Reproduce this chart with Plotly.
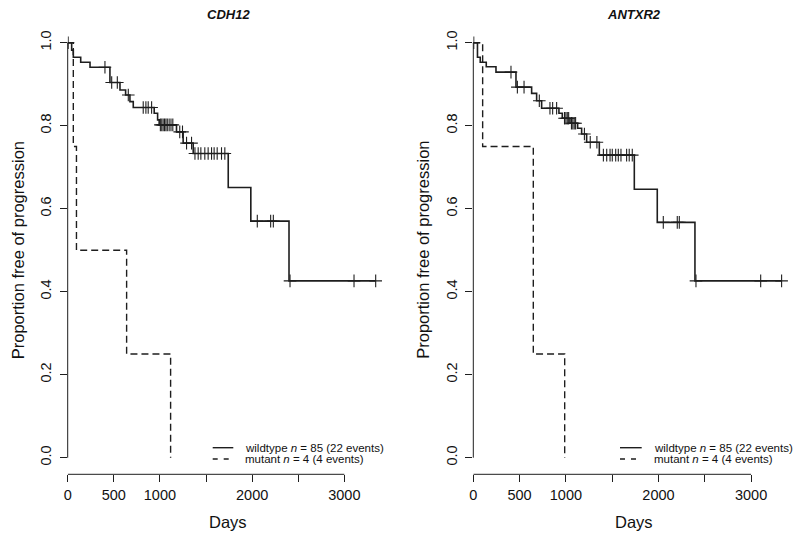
import numpy as np
import plotly.graph_objects as go

# ---------------- data ----------------
panel_titles = ["CDH12", "ANTXR2"]

cdh12_wt_days = [0, 43, 61, 141, 242, 458, 567, 628, 675, 711, 938, 975, 992, 1180, 1252, 1361, 1741, 1986, 2400]
cdh12_wt_surv = [1.0, 0.982, 0.965, 0.953, 0.941, 0.904, 0.886, 0.874, 0.858, 0.844, 0.830, 0.814, 0.802, 0.785,
                 0.758, 0.733, 0.651, 0.570, 0.426]
cdh12_wt_censor = [5, 404, 477, 538, 657, 819, 848, 873, 910, 1005, 1020, 1035, 1050, 1065, 1080, 1100, 1120,
                   1140, 1215, 1245, 1289, 1343, 1380, 1415, 1444, 1487, 1523, 1560, 1588, 1621, 1668, 1704,
                   2056, 2201, 2230, 2411, 3105, 3340]
cdh12_mut_days = [0, 61, 95, 639, 1116]
cdh12_mut_surv = [1.0, 0.75, 0.5, 0.25, 0.0]

antxr2_wt_days = [0, 45, 75, 140, 245, 461, 630, 684, 738, 925, 961, 1044, 1127, 1170, 1224, 1361, 1739, 1987, 2394]
antxr2_wt_surv = [1.0, 0.965, 0.953, 0.942, 0.929, 0.893, 0.878, 0.860, 0.842, 0.830, 0.818, 0.806, 0.794, 0.780,
                  0.760, 0.729, 0.647, 0.567, 0.426]
antxr2_wt_censor = [5, 407, 476, 548, 713, 828, 857, 900, 985, 1000, 1015, 1030, 1060, 1075, 1090, 1105, 1200,
                    1263, 1335, 1405, 1441, 1477, 1501, 1538, 1566, 1595, 1656, 1684, 1717, 2052, 2203, 2225,
                    2405, 3104, 3330]
antxr2_mut_days = [0, 101, 648, 987]
antxr2_mut_surv = [1.0, 0.75, 0.25, 0.0]

legend_labels = ["wildtype <i>n</i> = 85 (22 events)", "mutant <i>n</i> = 4 (4 events)"]

x_ticks = [0, 500, 1000, 1500, 2000, 2500, 3000]
x_ticklabels = ["0", "500", "1000", "", "2000", "", "3000"]
y_ticks = [0.0, 0.2, 0.4, 0.6, 0.8, 1.0]
y_ticklabels = ["0.0", "0.2", "0.4", "0.6", "0.8", "1.0"]
x_title = "Days"
y_title = "Proportion free of progression"

# ---------------- figure ----------------
W, H = 800, 541
FONT = "Liberation Sans, Arial, sans-serif"
INK = "#1e1e1e"

panels = [
    dict(title=panel_titles[0], wt=(cdh12_wt_days, cdh12_wt_surv, cdh12_wt_censor),
         mut=(cdh12_mut_days, cdh12_mut_surv), px=(67.7, 388.6), ytitle_x=18, leg=(212.7, 233.3, 243.3)),
    dict(title=panel_titles[1], wt=(antxr2_wt_days, antxr2_wt_surv, antxr2_wt_censor),
         mut=(antxr2_mut_days, antxr2_mut_surv), px=(473.3, 795.5), ytitle_x=423.5, leg=(620.0, 641.7, 651.7)),
]

fig = go.Figure()
y_dom = [(H - 474.3) / H, (H - 26.1) / H]
x_max = 3480

shapes, annotations = [], []
for i, p in enumerate(panels):
    xa = "x" if i == 0 else "x2"
    ya = "y" if i == 0 else "y2"
    days, surv, cens = p["wt"]
    last_t = max(max(days), max(cens))
    line_x = list(days) + [last_t]
    line_y = list(surv) + [surv[-1]]
    fig.add_trace(go.Scatter(x=line_x, y=line_y, mode="lines", line=dict(shape="hv", color=INK, width=1.6),
                             xaxis=xa, yaxis=ya, showlegend=False, hoverinfo="skip"))
    idx = np.searchsorted(np.array(days), np.array(cens), side="right") - 1
    cens_y = np.array(surv)[idx]
    fig.add_trace(go.Scatter(x=cens, y=cens_y, mode="markers",
                             marker=dict(symbol="cross-thin", size=9, line=dict(color=INK, width=1.1)),
                             xaxis=xa, yaxis=ya, showlegend=False, hoverinfo="skip"))
    mdays, msurv = p["mut"]
    fig.add_trace(go.Scatter(x=mdays, y=msurv, mode="lines",
                             line=dict(shape="hv", color=INK, width=1.4, dash="7px,4px"),
                             xaxis=xa, yaxis=ya, showlegend=False, hoverinfo="skip"))

    x0p, x1p = p["px"]
    axkey = "xaxis" if i == 0 else "xaxis2"
    aykey = "yaxis" if i == 0 else "yaxis2"
    fig.update_layout(**{
        axkey: dict(domain=[x0p / W, x1p / W], range=[0, x_max], anchor=ya, showgrid=False, zeroline=False,
                    showline=False, ticks="outside", ticklen=7, tickwidth=1, tickcolor=INK,
                    tickvals=x_ticks, ticktext=x_ticklabels,
                    tickfont=dict(family=FONT, size=14.5, color="#111"), automargin=False),
        aykey: dict(domain=y_dom, range=[-0.04, 1.04], anchor=xa, showgrid=False, zeroline=False,
                    showline=False, ticks="outside", ticklen=7, tickwidth=1, tickcolor=INK,
                    tickvals=y_ticks, ticktext=y_ticklabels, tickangle=-90, ticklabelstandoff=3,
                    tickfont=dict(family=FONT, size=14.5, color="#111"), automargin=False),
    })
    # R-style axis lines spanning first to last tick
    shapes.append(dict(type="line", xref=xa, yref=f"{ya} domain", x0=x_ticks[0], x1=x_ticks[-1], y0=0, y1=0,
                       line=dict(color=INK, width=1)))
    shapes.append(dict(type="line", xref=f"{xa} domain", yref=ya, x0=0, x1=0, y0=y_ticks[0], y1=y_ticks[-1],
                       line=dict(color=INK, width=1)))
    cx = (x0p + x1p) / 2
    annotations.append(dict(text=f"<b><i>{p['title']}</i></b>", x=cx / W, y=1 - 14.5 / H, xref="paper",
                            yref="paper", showarrow=False, xanchor="center", yanchor="middle",
                            font=dict(family=FONT, size=13, color="#111")))
    annotations.append(dict(text=x_title, x=cx / W, y=1 - 521.7 / H, xref="paper", yref="paper",
                            showarrow=False, xanchor="center", yanchor="middle",
                            font=dict(family=FONT, size=16.5, color="#111")))
    annotations.append(dict(text=y_title, x=p["ytitle_x"] / W, y=1 - 250.3 / H, xref="paper", yref="paper",
                            showarrow=False, textangle=-90, xanchor="center", yanchor="middle",
                            font=dict(family=FONT, size=16.5, color="#111")))
    # legend
    lx0, lx1, tx = p["leg"]
    for j, (lab, dash) in enumerate(zip(legend_labels, ["solid", "5px,6px"])):
        ly = 447.7 + j * 11.3
        shapes.append(dict(type="line", xref="paper", yref="paper", x0=lx0 / W, x1=lx1 / W,
                           y0=1 - ly / H, y1=1 - ly / H, line=dict(color=INK, width=1.4, dash=dash)))
        annotations.append(dict(text=lab, x=tx / W, y=1 - ly / H, xref="paper", yref="paper",
                                showarrow=False, xanchor="left", yanchor="middle",
                                font=dict(family=FONT, size=11.5, color="#111")))

fig.update_layout(width=W, height=H, margin=dict(l=0, r=0, t=0, b=0), plot_bgcolor="white",
                  paper_bgcolor="white", shapes=shapes, annotations=annotations, showlegend=False)

fig.write_html("out.html", config={"displayModeBar": False},
               post_script="document.body.style.margin='0px';document.body.style.overflow='hidden';")
